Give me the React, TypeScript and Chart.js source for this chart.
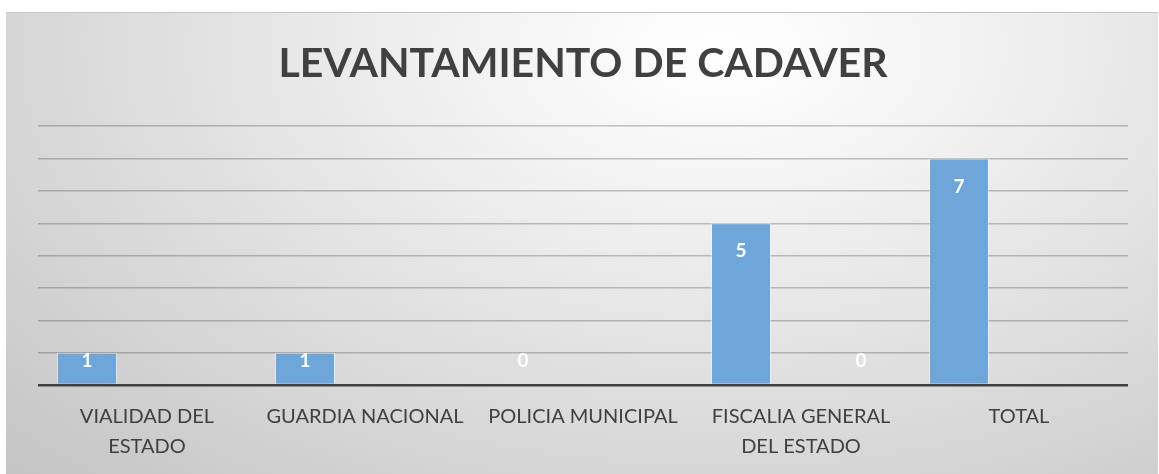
import React, { useEffect, useRef } from "react";
import { Chart, registerables } from "chart.js";

Chart.register(...registerables);

const categories: (string | string[])[] = [
  ["VIALIDAD DEL", "ESTADO"],
  "GUARDIA NACIONAL",
  "POLICIA MUNICIPAL",
  ["FISCALIA GENERAL", "DEL ESTADO"],
  "TOTAL",
];
const seriesA: (number | null)[] = [1, 1, 0, 5, 7];
const seriesB: (number | null)[] = [null, null, null, null, null];
const seriesC: (number | null)[] = [null, null, null, 0, null];
const yMax = 8;
const titleText = "LEVANTAMIENTO DE CADAVER";

const barColor = "#6ea6da";

const labelPlugin = {
  id: "barLabels",
  afterDatasetsDraw(chart: any) {
    const { ctx } = chart;
    const base = chart.scales.y.getPixelForValue(0);
    ctx.save();
    ctx.fillStyle = "#ffffff";
    ctx.font = "bold 19px Lato";
    ctx.textAlign = "center";
    ctx.textBaseline = "middle";
    chart.data.datasets.forEach((ds: any, di: number) => {
      const meta = chart.getDatasetMeta(di);
      meta.data.forEach((el: any, i: number) => {
        const v = ds.data[i];
        if (v === null || v === undefined) return;
        const y = Math.min(el.y + 28, base - 24);
        ctx.fillText(String(v), el.x, y);
      });
    });
    ctx.restore();
  },
};

export default function App() {
  const ref = useRef<HTMLCanvasElement>(null);
  useEffect(() => {
    if (!ref.current) return;
    const mk = (data: (number | null)[]) => ({
      data,
      backgroundColor: barColor,
      borderColor: "rgba(255,255,255,0.45)",
      borderWidth: 1,
      categoryPercentage: 0.826,
      barPercentage: 1,
    });
    const chart = new Chart(ref.current, {
      type: "bar",
      data: {
        labels: categories,
        datasets: [mk(seriesA), mk(seriesB), mk(seriesC)],
      },
      plugins: [labelPlugin],
      options: {
        animation: false,
        responsive: true,
        maintainAspectRatio: false,
        layout: { padding: { left: 32, right: 30, top: 0, bottom: 0 } },
        plugins: {
          legend: { display: false },
          tooltip: { enabled: false },
          title: {
            display: true,
            text: titleText,
            color: "#404040",
            font: { family: "Lato", size: 41, weight: "bold", lineHeight: 1.2 },
            padding: { top: 26, bottom: 38 },
          },
        },
        scales: {
          x: {
            grid: { display: false },
            border: { display: false },
            ticks: {
              color: "#404040",
              font: { family: "Lato", size: 20, lineHeight: 1.5 },
              maxRotation: 0,
              autoSkip: false,
              padding: 9,
            },
            afterFit(scale: any) {
              scale.height = 90;
            },
          },
          y: {
            min: 0,
            max: yMax,
            ticks: { display: false, stepSize: 1 },
            border: { display: false },
            grid: {
              drawTicks: false,
              color: (c: any) => (c.tick.value === 0 ? "#404040" : "rgba(0,0,0,0.22)"),
              lineWidth: (c: any) => (c.tick.value === 0 ? 2.5 : 1.5),
            },
            afterFit(scale: any) {
              scale.width = 0;
            },
          },
        },
      },
    });
    return () => chart.destroy();
  }, []);
  return (
    <div
      style={{
        position: "absolute",
        left: 6,
        top: 12,
        width: 1152,
        height: 462,
        borderTop: "1px solid #c4c4c4",
        background:
          "radial-gradient(ellipse farthest-corner at 62% 8%, #ffffff 0%, #f6f6f6 18%, #c4c4c4 100%)",
      }}
    >
      <canvas ref={ref} />
    </div>
  );
}
